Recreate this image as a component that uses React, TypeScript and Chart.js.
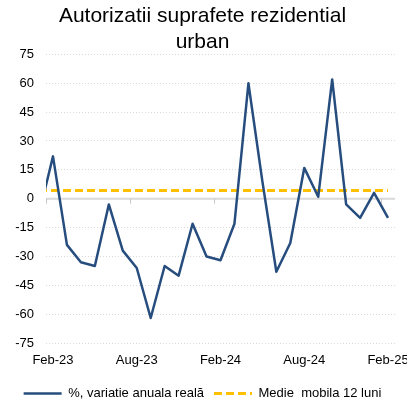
import React, { useEffect, useRef } from 'react';
import { Chart, registerables } from 'chart.js';

Chart.register(...registerables);

const months = [
  'Jan-23', 'Feb-23', 'Mar-23', 'Apr-23', 'May-23', 'Jun-23', 'Jul-23', 'Aug-23', 'Sep-23', 'Oct-23', 'Nov-23', 'Dec-23',
  'Jan-24', 'Feb-24', 'Mar-24', 'Apr-24', 'May-24', 'Jun-24', 'Jul-24', 'Aug-24', 'Sep-24', 'Oct-24', 'Nov-24', 'Dec-24',
  'Jan-25', 'Feb-25',
];

const realChange = [
  -8, 22, -24, -33, -35, -3, -27, -36, -62, -35, -40, -13,
  -30, -32, -13, 60, 9, -38, -23, 16, 1, 62, -3, -10,
  3, -10,
];

const movingAvg = [
  4.2, 4.2, 4.2, 4.2, 4.2, 4.2, 4.2, 4.2, 4.2, 4.2, 4.2, 4.2,
  4.2, 4.2, 4.2, 4.2, 4.2, 4.2, 4.2, 4.2, 4.2, 4.2, 4.2, 4.2,
  4.2, 4.2,
];

const xTickLabels = ['Feb-23', 'Aug-23', 'Feb-24', 'Aug-24', 'Feb-25'];
const yTicks = [-75, -60, -45, -30, -15, 0, 15, 30, 45, 60, 75];

const titleLines = ['Autorizatii suprafete rezidential', 'urban'];
const seriesNames = ['%, variatie anuala reală', 'Medie  mobila 12 luni'];

const FONT = "'Liberation Sans', Arial, sans-serif";

const zeroAxisPlugin = {
  id: 'zeroAxis',
  beforeDatasetsDraw(chart: any) {
    const { ctx, chartArea, scales } = chart;
    const x = scales.x;
    const y = scales.y;
    const y0 = y.getPixelForValue(0);
    ctx.save();
    ctx.strokeStyle = '#d9d9d9';
    ctx.lineWidth = 2;
    ctx.beginPath();
    ctx.moveTo(chartArea.left, y0);
    ctx.lineTo(chartArea.right, y0);
    ctx.stroke();
    ctx.strokeStyle = '#c8c8c8';
    ctx.lineWidth = 1;
    ctx.beginPath();
    xTickLabels.forEach((l) => {
      const px = Math.round(x.getPixelForValue(months.indexOf(l) - 0.5)) + 0.5;
      ctx.moveTo(px, y0);
      ctx.lineTo(px, y0 + 5);
    });
    ctx.stroke();
    ctx.restore();
  },
};

export default function App() {
  const ref = useRef<HTMLCanvasElement>(null);

  useEffect(() => {
    document.body.style.margin = '0';
    const canvas = ref.current!;
    Chart.defaults.font.family = FONT;
    const chart = new Chart(canvas, {
      type: 'line',
      data: {
        datasets: [
          {
            label: seriesNames[0],
            data: realChange.map((v, i) => ({ x: i, y: v })),
            borderColor: '#264D7E',
            backgroundColor: '#264D7E',
            borderWidth: 2.5,
            borderJoinStyle: 'round',
            pointRadius: 0,
            tension: 0,
          },
          {
            label: seriesNames[1],
            data: movingAvg.map((v, i) => ({ x: i, y: v })),
            borderColor: '#FFC000',
            backgroundColor: '#FFC000',
            borderWidth: 3,
            borderDash: [8, 4],
            pointRadius: 0,
            tension: 0,
          },
        ],
      },
      options: {
        animation: false,
        responsive: false,
        layout: { padding: { left: 10, right: 12, top: 0, bottom: -8 } },
        plugins: {
          title: {
            display: true,
            text: titleLines,
            color: '#000000',
            font: { size: 21, weight: 'normal', family: FONT, lineHeight: 1.2 },
            padding: { top: 4, bottom: 0 },
          },
          legend: {
            position: 'bottom',
            labels: {
              usePointStyle: true,
              pointStyle: 'line',
              pointStyleWidth: 38,
              color: '#000000',
              font: { size: 13, family: FONT },
              padding: 10,
              generateLabels: (ch: any) =>
                ch.data.datasets.map((ds: any, i: number) => ({
                  text: ds.label,
                  strokeStyle: ds.borderColor,
                  fillStyle: ds.borderColor,
                  lineWidth: ds.borderWidth,
                  lineDash: ds.borderDash || [],
                  lineCap: 'butt',
                  pointStyle: 'line',
                  fontColor: '#000000',
                  hidden: false,
                  datasetIndex: i,
                })),
            },
          },
          tooltip: { enabled: false },
        },
        scales: {
          x: {
            type: 'linear',
            min: 0.5,
            max: 25.5,
            grid: { display: false, drawTicks: false },
            border: { display: false },
            afterBuildTicks: (scale: any) => {
              scale.ticks = xTickLabels.map((l) => ({ value: months.indexOf(l) }));
            },
            afterFit: (scale: any) => {
              scale.height = 34;
              scale.paddingLeft = 0;
              scale.paddingRight = 0;
            },
            ticks: {
              autoSkip: false,
              maxRotation: 0,
              padding: 10,
              color: '#000000',
              font: { size: 13, family: FONT },
              callback: (v: any) => months[v as number],
            },
          },
          y: {
            min: -75,
            max: 75,
            afterBuildTicks: (scale: any) => {
              scale.ticks = yTicks.map((v) => ({ value: v }));
            },
            afterFit: (scale: any) => {
              scale.width = 36;
            },
            grid: { color: '#d9d9d9', lineWidth: 1, drawTicks: false },
            border: { display: false, dash: [1, 2] },
            ticks: {
              padding: 12,
              color: '#000000',
              font: { size: 13, family: FONT },
            },
          },
        },
      },
      plugins: [zeroAxisPlugin],
    } as any);
    return () => chart.destroy();
  }, []);

  return (
    <div style={{ width: 407, height: 402, overflow: 'hidden' }}>
      <canvas ref={ref} width={407} height={402} style={{ display: 'block' }} />
    </div>
  );
}
